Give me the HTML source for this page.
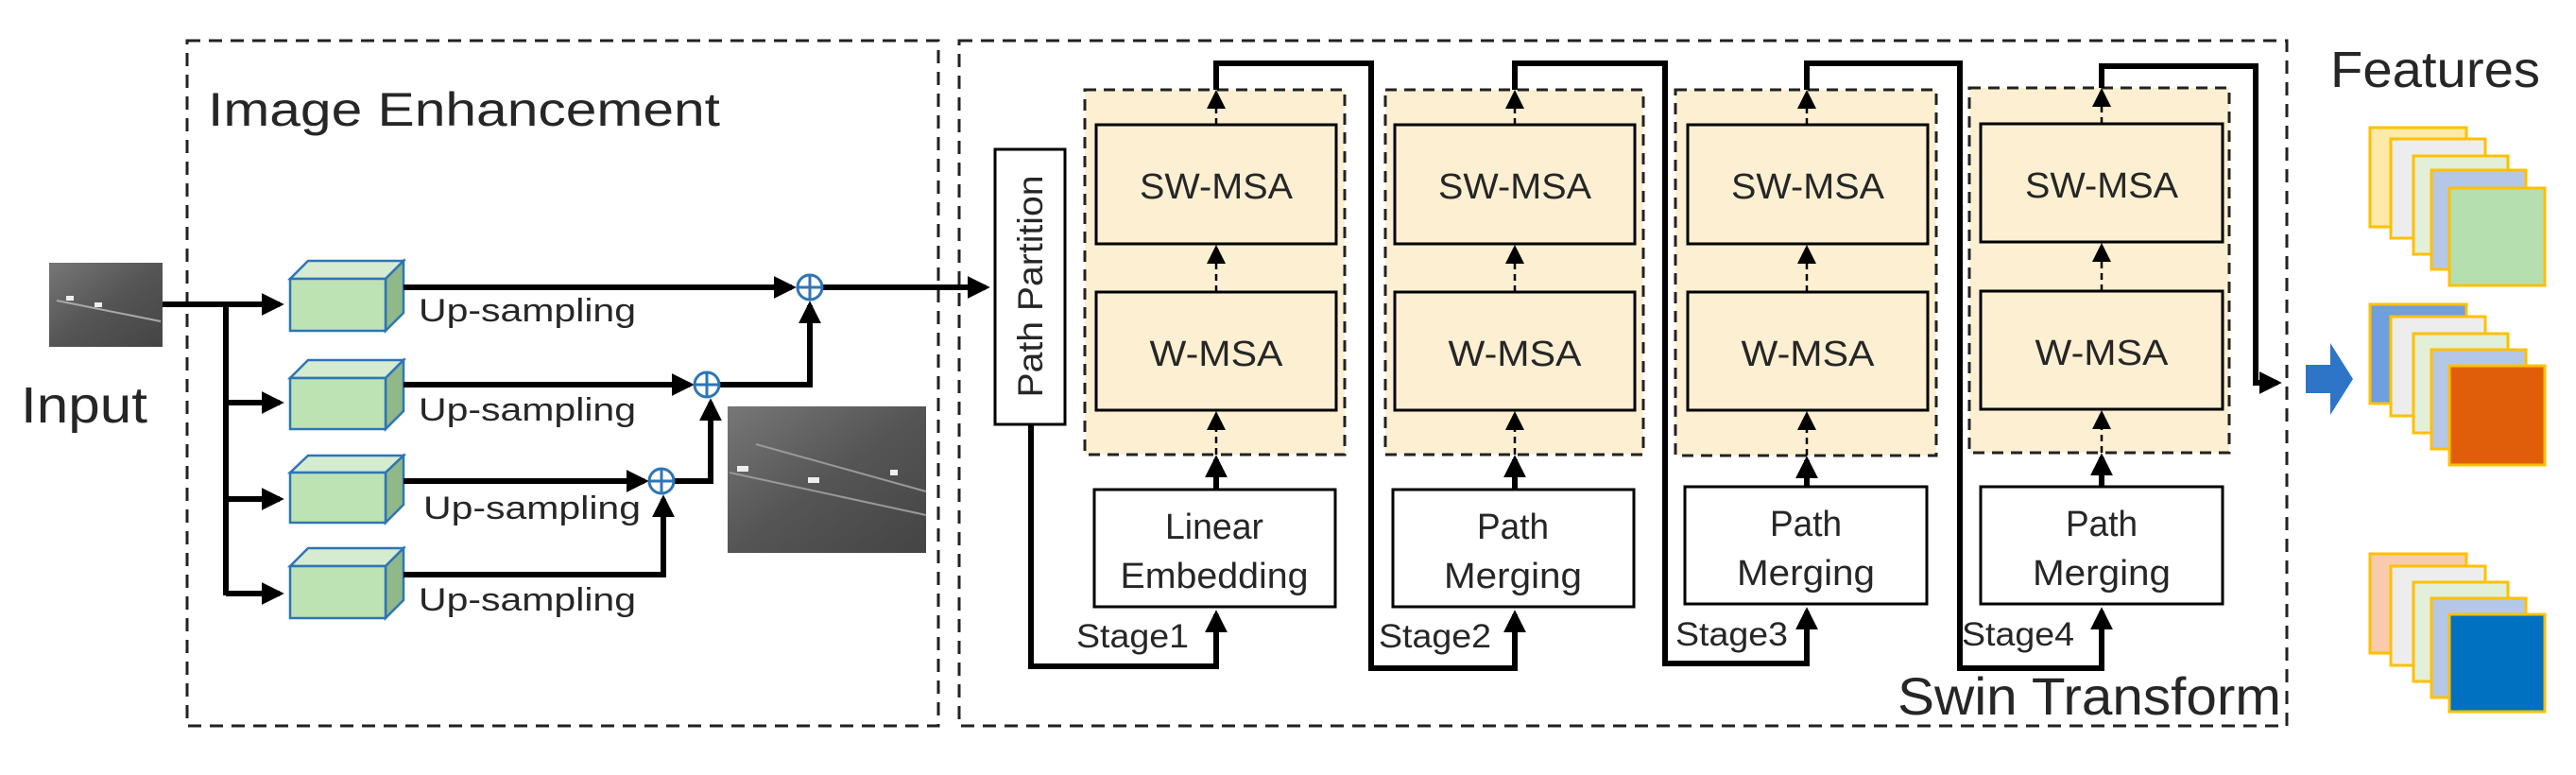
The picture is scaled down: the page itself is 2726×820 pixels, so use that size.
<!DOCTYPE html>
<html><head><meta charset="utf-8"><style>
html,body{margin:0;padding:0;background:#fff;}
svg{display:block;}
text{font-family:"Liberation Sans","DejaVu Sans",sans-serif;fill:#262626;}
</style></head><body>
<svg width="2726" height="820" viewBox="0 0 2726 820" xmlns="http://www.w3.org/2000/svg">
<defs>
<marker id="ah" markerWidth="4" markerHeight="4" refX="3.2" refY="2" orient="auto" markerUnits="strokeWidth"><path d="M0,0 L4,2 L0,4 z" fill="#000"/></marker>
<marker id="ds" markerWidth="8" markerHeight="8" refX="6" refY="4" orient="auto" markerUnits="strokeWidth"><path d="M0,0 L8,4 L0,8 z" fill="#000"/></marker>
<linearGradient id="g1" x1="0" y1="0" x2="1" y2="1"><stop offset="0" stop-color="#777"/><stop offset="0.5" stop-color="#555"/><stop offset="1" stop-color="#444"/></linearGradient>
</defs>

<rect x="198" y="43" width="795" height="725" fill="none" stroke="#222" stroke-width="3" stroke-dasharray="14,9"/>
<rect x="1015" y="43" width="1405" height="725" fill="none" stroke="#222" stroke-width="3" stroke-dasharray="14,9"/>

<g lengthAdjust="spacingAndGlyphs">
<text x="220" y="133" font-size="50" textLength="542" lengthAdjust="spacingAndGlyphs">Image Enhancement</text>
<text x="22" y="447" font-size="54" textLength="134" lengthAdjust="spacingAndGlyphs">Input</text>
<text x="2008" y="756" font-size="56" textLength="406" lengthAdjust="spacingAndGlyphs">Swin Transform</text>
<text x="2466" y="92" font-size="54" textLength="222" lengthAdjust="spacingAndGlyphs">Features</text>
</g>

<rect x="52" y="278" width="120" height="89" fill="url(#g1)"/>
<path d="M60,318 L170,340" stroke="#aaa" stroke-width="2"/>
<rect x="70" y="313" width="8" height="5" fill="#eee"/><rect x="100" y="320" width="8" height="5" fill="#eee"/>

<g stroke="#000" stroke-width="6" fill="none">
<path d="M172,322 L239,322"/>
<path d="M239,322 L239,630"/>
<path d="M239,322 L296,322" marker-end="url(#ah)"/>
<path d="M239,426 L296,426" marker-end="url(#ah)"/>
<path d="M239,528 L296,528" marker-end="url(#ah)"/>
<path d="M239,628 L296,628" marker-end="url(#ah)"/>
</g>

<g stroke="#2e75b6" stroke-width="2.5">
<g><polygon points="307,295 326,276 427,276 408,295" fill="#d6ecd0"/><polygon points="408,295 427,276 427,331 408,350" fill="#90b888"/><rect x="307" y="295" width="101" height="55" fill="#bde3b4"/></g>
<g><polygon points="307,400 326,381 427,381 408,400" fill="#d6ecd0"/><polygon points="408,400 427,381 427,435 408,454" fill="#90b888"/><rect x="307" y="400" width="101" height="54" fill="#bde3b4"/></g>
<g><polygon points="307,500 326,482 427,482 408,500" fill="#d6ecd0"/><polygon points="408,500 427,482 427,534 408,553" fill="#90b888"/><rect x="307" y="500" width="101" height="53" fill="#bde3b4"/></g>
<g><polygon points="307,599 326,580 427,580 408,599" fill="#d6ecd0"/><polygon points="408,599 427,580 427,635 408,654" fill="#90b888"/><rect x="307" y="599" width="101" height="55" fill="#bde3b4"/></g>
</g>

<text x="443" y="340" font-size="34" textLength="230" lengthAdjust="spacingAndGlyphs">Up-sampling</text>
<text x="443" y="445" font-size="34" textLength="230" lengthAdjust="spacingAndGlyphs">Up-sampling</text>
<text x="448" y="549" font-size="34" textLength="230" lengthAdjust="spacingAndGlyphs">Up-sampling</text>
<text x="443" y="646" font-size="34" textLength="230" lengthAdjust="spacingAndGlyphs">Up-sampling</text>

<g stroke="#000" stroke-width="6" fill="none">
<path d="M427,304 L838,304" marker-end="url(#ah)"/>
<path d="M427,407 L730,407" marker-end="url(#ah)"/>
<path d="M427,509 L682,509" marker-end="url(#ah)"/>
<path d="M427,608 L702,608 L702,528" marker-end="url(#ah)"/>
<path d="M714,509 L752,509 L752,426" marker-end="url(#ah)"/>
<path d="M762,407 L857,407 L857,323" marker-end="url(#ah)"/>
<path d="M871,304 L1043,304" marker-end="url(#ah)"/>
</g>
<g fill="#fff" stroke="#2e75b6" stroke-width="3">
<circle cx="857" cy="304" r="13"/><path d="M844,304 H870 M857,291 V317"/>
<circle cx="748" cy="407" r="13"/><path d="M735,407 H761 M748,394 V420"/>
<circle cx="700" cy="509" r="13"/><path d="M687,509 H713 M700,496 V522"/>
</g>

<rect x="770" y="430" width="210" height="155" fill="url(#g1)"/>
<path d="M772,500 L980,545 M800,470 L980,520" stroke="#999" stroke-width="2"/>
<rect x="780" y="493" width="12" height="6" fill="#eee"/><rect x="855" y="505" width="12" height="6" fill="#eee"/><rect x="942" y="497" width="8" height="6" fill="#eee"/>

<rect x="1053" y="158" width="74" height="291" fill="#fff" stroke="#000" stroke-width="3"/>
<text transform="translate(1103,303) rotate(-90)" text-anchor="middle" font-size="37" textLength="235" lengthAdjust="spacingAndGlyphs">Path Partition</text>

<rect x="1148" y="95" width="275" height="386" fill="#fdf0d2" stroke="#222" stroke-width="3" stroke-dasharray="12,8"/>
<rect x="1466" y="95" width="273" height="386" fill="#fdf0d2" stroke="#222" stroke-width="3" stroke-dasharray="12,8"/>
<rect x="1773" y="95" width="276" height="387" fill="#fdf0d2" stroke="#222" stroke-width="3" stroke-dasharray="12,8"/>
<rect x="2084" y="93" width="275" height="386" fill="#fdf0d2" stroke="#222" stroke-width="3" stroke-dasharray="12,8"/>
<g fill="#fdf0d2" stroke="#000" stroke-width="3">
<rect x="1160" y="132" width="254" height="126"/><rect x="1160" y="309" width="254" height="125"/>
<rect x="1476" y="132" width="254" height="126"/><rect x="1476" y="309" width="254" height="125"/>
<rect x="1786" y="132" width="254" height="126"/><rect x="1786" y="309" width="254" height="125"/>
<rect x="2096" y="131" width="256" height="125"/><rect x="2096" y="308" width="256" height="125"/>
</g>
<g fill="#fff" stroke="#000" stroke-width="3">
<rect x="1158" y="518" width="255" height="124"/>
<rect x="1474" y="518" width="255" height="124"/>
<rect x="1783" y="515" width="256" height="124"/>
<rect x="2096" y="515" width="256" height="124"/>
</g>
<g font-size="38" text-anchor="middle">
<text x="1287" y="210" textLength="162" lengthAdjust="spacingAndGlyphs">SW-MSA</text><text x="1287" y="387" textLength="141" lengthAdjust="spacingAndGlyphs">W-MSA</text>
<text x="1603" y="210" textLength="162" lengthAdjust="spacingAndGlyphs">SW-MSA</text><text x="1603" y="387" textLength="141" lengthAdjust="spacingAndGlyphs">W-MSA</text>
<text x="1913" y="210" textLength="162" lengthAdjust="spacingAndGlyphs">SW-MSA</text><text x="1913" y="387" textLength="141" lengthAdjust="spacingAndGlyphs">W-MSA</text>
<text x="2224" y="209" textLength="162" lengthAdjust="spacingAndGlyphs">SW-MSA</text><text x="2224" y="386" textLength="141" lengthAdjust="spacingAndGlyphs">W-MSA</text>
<text x="1285" y="570" textLength="104" lengthAdjust="spacingAndGlyphs">Linear</text><text x="1285" y="622" textLength="199" lengthAdjust="spacingAndGlyphs">Embedding</text>
<text x="1601" y="570" textLength="76" lengthAdjust="spacingAndGlyphs">Path</text><text x="1601" y="622" textLength="146" lengthAdjust="spacingAndGlyphs">Merging</text>
<text x="1911" y="567" textLength="76" lengthAdjust="spacingAndGlyphs">Path</text><text x="1911" y="619" textLength="146" lengthAdjust="spacingAndGlyphs">Merging</text>
<text x="2224" y="567" textLength="76" lengthAdjust="spacingAndGlyphs">Path</text><text x="2224" y="619" textLength="146" lengthAdjust="spacingAndGlyphs">Merging</text>
</g>
<g font-size="35">
<text x="1139" y="685" textLength="119" lengthAdjust="spacingAndGlyphs">Stage1</text>
<text x="1459" y="685" textLength="119" lengthAdjust="spacingAndGlyphs">Stage2</text>
<text x="1773" y="683" textLength="119" lengthAdjust="spacingAndGlyphs">Stage3</text>
<text x="2076" y="683" textLength="119" lengthAdjust="spacingAndGlyphs">Stage4</text>
</g>

<g stroke="#000" stroke-width="2.5" stroke-dasharray="7,5" fill="none">
<path d="M1287,481 L1287,440" marker-end="url(#ds)"/><path d="M1287,309 L1287,264" marker-end="url(#ds)"/><path d="M1287,132 L1287,100" marker-end="url(#ds)"/>
<path d="M1603,481 L1603,440" marker-end="url(#ds)"/><path d="M1603,309 L1603,264" marker-end="url(#ds)"/><path d="M1603,132 L1603,100" marker-end="url(#ds)"/>
<path d="M1912,482 L1912,440" marker-end="url(#ds)"/><path d="M1912,309 L1912,264" marker-end="url(#ds)"/><path d="M1912,132 L1912,100" marker-end="url(#ds)"/>
<path d="M2224,479 L2224,439" marker-end="url(#ds)"/><path d="M2224,308 L2224,262" marker-end="url(#ds)"/><path d="M2224,131 L2224,98" marker-end="url(#ds)"/>
</g>

<g stroke="#000" stroke-width="6" fill="none">
<path d="M1287,518 L1287,486" marker-end="url(#ah)"/>
<path d="M1603,518 L1603,486" marker-end="url(#ah)"/>
<path d="M1912,515 L1912,487" marker-end="url(#ah)"/>
<path d="M2224,515 L2224,484" marker-end="url(#ah)"/>
<path d="M1091,449 L1091,705 L1287,705 L1287,650" marker-end="url(#ah)"/>
<path d="M1287,95 L1287,67 L1451,67 L1451,707 L1603,707 L1603,650" marker-end="url(#ah)"/>
<path d="M1603,95 L1603,67 L1762,67 L1762,702 L1912,702 L1912,647" marker-end="url(#ah)"/>
<path d="M1912,95 L1912,67 L2074,67 L2074,707 L2224,707 L2224,647" marker-end="url(#ah)"/>
<path d="M2224,93 L2224,70 L2387,70 L2387,405 L2410,405" marker-end="url(#ah)"/>
</g>

<polygon points="2440,386 2466,386 2466,363 2490,401 2466,439 2466,416 2440,416" fill="#2e75c8"/>

<g stroke="#ffc000" stroke-width="3">
<rect x="2508" y="135" width="102" height="105" fill="#fde9a9"/>
<rect x="2530" y="147" width="100" height="105" fill="#ededed"/>
<rect x="2554" y="165" width="100" height="104" fill="#e2efd9"/>
<rect x="2573" y="180" width="100" height="105" fill="#b4c7e7"/>
<rect x="2592" y="199" width="101" height="103" fill="#b6dfb0"/>

<rect x="2508" y="322" width="102" height="105" fill="#6f9fdc"/>
<rect x="2530" y="335" width="100" height="105" fill="#ededed"/>
<rect x="2554" y="353" width="100" height="105" fill="#e2efd9"/>
<rect x="2573" y="370" width="100" height="105" fill="#b4c7e7"/>
<rect x="2592" y="387" width="101" height="105" fill="#e05e0a"/>

<rect x="2508" y="586" width="102" height="105" fill="#f8cbad"/>
<rect x="2530" y="599" width="100" height="105" fill="#ededed"/>
<rect x="2554" y="616" width="100" height="105" fill="#e2efd9"/>
<rect x="2573" y="633" width="100" height="105" fill="#b4c7e7"/>
<rect x="2592" y="650" width="101" height="103" fill="#0070c0"/>
</g>
</svg>
</body></html>
